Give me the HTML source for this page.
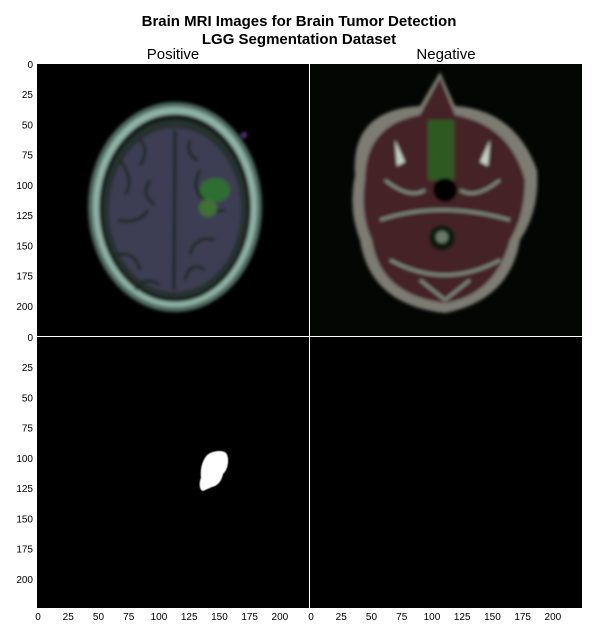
<!DOCTYPE html>
<html><head><meta charset="utf-8"><style>
body{margin:0;background:#fff;width:595px;height:636px;overflow:hidden;font-family:"Liberation Sans",sans-serif}
</style></head><body>
<svg width="595" height="636" xmlns="http://www.w3.org/2000/svg">
<defs>
<filter id="bl"><feGaussianBlur stdDeviation="1.5"/></filter>
<filter id="bl2"><feGaussianBlur stdDeviation="0.6"/></filter>
</defs>
<text x="299" y="26" text-anchor="middle" font-size="15" font-weight="bold">Brain MRI Images for Brain Tumor Detection</text>
<text x="299" y="44" text-anchor="middle" font-size="15" font-weight="bold">LGG Segmentation Dataset</text>
<text x="173" y="59" text-anchor="middle" font-size="15">Positive</text>
<text x="446" y="59" text-anchor="middle" font-size="15">Negative</text>

<g>
<rect x="37" y="64" width="272" height="272" fill="#000"/>
<g filter="url(#bl)">
<ellipse cx="175" cy="207" rx="87" ry="105" fill="#4f6a62"/>
<ellipse cx="175" cy="207" rx="82" ry="100" fill="#8fb2a6"/>
<ellipse cx="175" cy="208" rx="76" ry="94" fill="#141e1b"/>
<ellipse cx="175" cy="209" rx="72" ry="89" fill="#25302e"/>
<ellipse cx="175" cy="210" rx="66" ry="82" fill="#3c3c52"/>
<path d="M175,130 L174,290" stroke="#18261d" stroke-width="3"/>
<path d="M120,160 q15,20 5,35 M118,220 q20,5 30,-10 M115,255 q20,-5 25,15 M150,180 q-10,15 5,25 M200,170 q-10,20 5,30 M215,240 q-20,-5 -25,15 M205,270 q-15,-10 -20,10 M135,290 q10,-15 25,-5 M225,210 q-15,5 -20,-10 M140,140 q10,10 0,25 M190,140 q-5,15 8,20" stroke="#1a2c20" stroke-width="3" fill="none"/>
<ellipse cx="215" cy="190" rx="15" ry="12" fill="#2f6e30"/>
<ellipse cx="208" cy="208" rx="9" ry="9" fill="#3f7030"/>
<circle cx="244" cy="135" r="3" fill="#5a3288"/>
</g>
</g>
<g>
<rect x="310" y="64" width="272" height="272" fill="#030603"/>
<g filter="url(#bl)">
<path d="M355,175 Q350,110 420,106 L440,72 L455,106 Q515,110 537,170 Q540,210 520,240 Q510,300 445,313 Q370,305 360,240 Q348,210 355,175Z" fill="#7d7c72"/>
<path d="M365,180 Q365,125 420,115 L440,78 L455,115 Q510,125 525,180 Q525,215 510,240 Q495,295 445,303 Q380,295 372,240 Q360,215 365,180Z" fill="#442028"/>
<rect x="428" y="120" width="26" height="60" fill="#2f5a22"/>
<ellipse cx="445" cy="190" rx="12" ry="12" fill="#050505"/>
<path d="M395,140 l10,22 -8,4z M490,140 l-10,22 8,4z" fill="#c5d2c4"/>
<path d="M380,220 q60,-20 130,0 M390,260 q55,30 110,0 M420,280 l25,20 25,-20 M385,180 q25,20 40,10 M500,180 q-25,20 -40,10" stroke="#7f8c80" stroke-width="3" fill="none"/>
<circle cx="442" cy="238" r="13" fill="#0c1a0c"/>
<circle cx="442" cy="237" r="6" fill="#6a7a66"/>
</g>
</g>
<g>
<rect x="37" y="337" width="272" height="271" fill="#000"/>
<path filter="url(#bl2)" d="M205,458 C208,451 222,449 226,453 C230,458 228,470 223,474 C222,480 218,486 212,487 L203,491 C199,490 199,482 201,478 C200,470 202,462 205,458 Z" fill="#fff"/>
</g>
<g>
<rect x="310" y="337" width="272" height="271" fill="#000"/>
</g>
<g id="ticks" font-size="10" fill="#000"></g>
<script>
const yTickLabels=[0,25,50,75,100,125,150,175,200];
const xTickLabels=[0,25,50,75,100,125,150,175,200];
const g=document.getElementById('ticks');
const sc=1.2095;
function addText(x,y,t,anchor){
  const e=document.createElementNS('http://www.w3.org/2000/svg','text');
  e.setAttribute('x',x);e.setAttribute('y',y);e.setAttribute('text-anchor',anchor);
  e.textContent=t;
  
  
  g.appendChild(e);
}
for(const v of yTickLabels){
  addText(33,64+v*sc+4,v,'end');
  addText(33,337+v*sc+4,v,'end');
}
for(const v of xTickLabels){
  addText(38+v*sc,620,v,'middle');
  addText(311+v*sc,620,v,'middle');
}
</script>
</svg>
</body></html>
